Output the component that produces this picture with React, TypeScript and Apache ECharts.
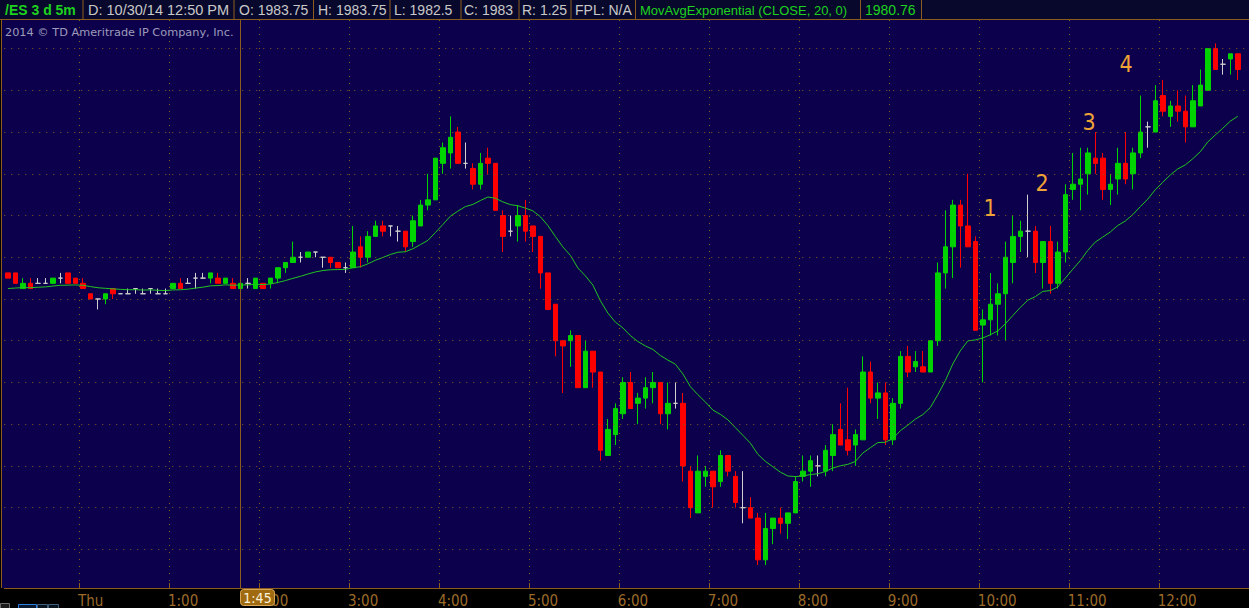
import React, { useEffect, useRef } from "react";
import * as echarts from "echarts";

// ---------- data ----------
const startMinuteOfDay = 23 * 60 + 10; // first bar 23:10 (Wed)
const slotCount = 166; // 165 bars + one empty slot at the right edge

const times: string[] = [];
for (let i = 0; i < slotCount; i++) {
  const m = (startMinuteOfDay + i * 5) % 1440;
  times.push(`${Math.floor(m / 60)}:${String(m % 60).padStart(2, "0")}`);
}

const opens = [
  1973.25, 1973.25, 1972.5, 1972.75, 1972.75, 1972.75, 1972.75, 1973.0, 1973.25, 1973.0,
  1972.75, 1972.25, 1972.0, 1972.0, 1972.5, 1972.25, 1972.25, 1972.5, 1972.25, 1972.5,
  1972.25, 1972.25, 1972.5, 1972.75, 1972.75, 1973.0, 1973.0, 1973.0, 1973.0, 1972.75,
  1972.75, 1972.5, 1972.75, 1972.5, 1972.75, 1972.75, 1973.0, 1973.5, 1973.75, 1974.0,
  1974.0, 1974.25, 1974.0, 1974.0, 1973.75, 1973.5, 1973.5, 1974.5, 1974.0, 1975.0,
  1975.5, 1975.5, 1975.25, 1975.25, 1974.75, 1975.5, 1976.5, 1976.75, 1978.5, 1979.0,
  1980.0, 1978.5, 1978.25, 1977.5, 1978.75, 1978.5, 1976.0, 1975.25, 1975.5, 1976.0,
  1975.5, 1975.0, 1973.25, 1971.75, 1970.0, 1970.0, 1970.25, 1967.75, 1969.5, 1968.5,
  1964.5, 1965.5, 1966.5, 1968.0, 1967.0, 1967.25, 1967.75, 1968.0, 1966.5, 1967.0,
  1967.0, 1963.75, 1961.75, 1963.5, 1963.75, 1963.25, 1964.5, 1963.5, 1962.0, 1962.0,
  1961.5, 1959.5, 1961.0, 1961.5, 1961.25, 1961.75, 1963.5, 1963.75, 1964.0, 1963.75,
  1964.5, 1965.75, 1965.25, 1965.0, 1965.25, 1968.5, 1967.25, 1967.5, 1965.25, 1967.0,
  1969.25, 1968.75, 1968.75, 1968.5, 1970.0, 1973.25, 1974.5, 1976.5, 1975.5, 1974.75,
  1970.75, 1971.0, 1971.75, 1972.25, 1973.75, 1975.0, 1975.25, 1975.25, 1973.75, 1974.75,
  1972.75, 1974.25, 1977.25, 1977.5, 1978.0, 1978.75, 1978.75, 1977.25, 1977.75, 1978.5,
  1978.0, 1979.0, 1980.25, 1980.0, 1981.75, 1980.75, 1981.25, 1981.0, 1980.25, 1981.25,
  1982.0, 1984.0, 1983.25, 1983.5, 1983.75,
];

const closes = [
  1973.0, 1972.75, 1972.75, 1972.5, 1972.75, 1972.75, 1973.0, 1973.0, 1972.75, 1972.75,
  1972.5, 1972.0, 1972.0, 1972.25, 1972.25, 1972.25, 1972.25, 1972.5, 1972.25, 1972.5,
  1972.25, 1972.25, 1972.75, 1972.5, 1972.75, 1973.0, 1973.0, 1973.25, 1972.75, 1973.0,
  1972.5, 1972.75, 1972.75, 1973.0, 1972.5, 1973.0, 1973.5, 1973.75, 1974.0, 1974.0,
  1974.25, 1974.25, 1974.0, 1973.75, 1973.5, 1973.5, 1974.25, 1974.0, 1975.0, 1975.5,
  1975.25, 1975.5, 1975.25, 1974.5, 1975.75, 1976.5, 1976.75, 1978.75, 1979.25, 1979.75,
  1978.5, 1978.5, 1977.5, 1978.5, 1978.5, 1976.25, 1975.0, 1975.25, 1976.0, 1975.25,
  1975.0, 1973.25, 1971.5, 1970.0, 1969.75, 1970.25, 1967.75, 1969.5, 1968.5, 1964.75,
  1965.75, 1966.75, 1968.0, 1966.75, 1967.25, 1967.75, 1968.0, 1966.5, 1967.0, 1967.0,
  1964.0, 1962.0, 1963.75, 1963.75, 1963.0, 1964.5, 1963.75, 1962.25, 1962.0, 1961.5,
  1959.5, 1961.0, 1961.5, 1961.25, 1961.75, 1963.25, 1963.75, 1964.25, 1964.0, 1964.75,
  1965.5, 1965.0, 1964.75, 1965.5, 1968.5, 1967.25, 1967.5, 1965.25, 1967.0, 1969.25,
  1968.5, 1969.0, 1968.5, 1970.0, 1973.25, 1974.5, 1976.5, 1975.5, 1974.5, 1970.5,
  1971.0, 1971.75, 1972.25, 1974.0, 1975.0, 1975.25, 1975.25, 1973.75, 1974.75, 1972.75,
  1974.25, 1977.0, 1977.5, 1977.75, 1979.0, 1978.5, 1977.25, 1977.5, 1978.5, 1977.75,
  1979.0, 1980.0, 1980.25, 1981.5, 1981.0, 1981.25, 1981.0, 1980.25, 1981.5, 1982.25,
  1984.0, 1983.0, 1983.25, 1983.75, 1983.0,
];

const lows = [
  1973.0, 1972.75, 1972.5, 1972.5, 1972.75, 1972.75, 1972.75, 1972.75, 1972.75, 1972.75,
  1972.5, 1972.0, 1971.5, 1971.75, 1972.0, 1972.25, 1972.25, 1972.25, 1972.25, 1972.25,
  1972.25, 1972.25, 1972.5, 1972.5, 1972.75, 1972.5, 1973.0, 1972.75, 1972.75, 1972.75,
  1972.5, 1972.5, 1972.5, 1972.5, 1972.5, 1972.5, 1972.75, 1973.25, 1973.75, 1973.75,
  1974.0, 1974.0, 1973.5, 1973.5, 1973.5, 1973.25, 1973.5, 1973.5, 1973.75, 1975.0,
  1975.0, 1975.0, 1974.75, 1974.25, 1974.5, 1975.5, 1976.25, 1976.75, 1978.0, 1978.25,
  1978.5, 1978.25, 1977.25, 1977.25, 1978.0, 1976.25, 1974.25, 1975.0, 1974.75, 1974.75,
  1974.25, 1972.5, 1971.5, 1969.25, 1967.5, 1968.75, 1967.75, 1967.75, 1967.75, 1964.25,
  1964.5, 1965.0, 1966.25, 1966.75, 1966.0, 1966.75, 1967.0, 1966.0, 1965.75, 1966.75,
  1963.25, 1961.5, 1961.75, 1963.0, 1962.0, 1963.0, 1963.5, 1962.0, 1961.25, 1961.5,
  1959.25, 1959.25, 1960.25, 1960.75, 1960.5, 1961.75, 1963.25, 1963.0, 1963.5, 1963.5,
  1963.75, 1965.0, 1964.5, 1964.0, 1965.25, 1967.0, 1966.25, 1965.0, 1965.0, 1966.75,
  1968.25, 1968.5, 1968.5, 1968.5, 1969.75, 1972.5, 1973.0, 1973.5, 1974.5, 1970.5,
  1968.0, 1970.25, 1970.25, 1970.0, 1972.75, 1974.25, 1974.0, 1973.25, 1972.5, 1972.25,
  1972.5, 1973.75, 1976.75, 1976.25, 1977.0, 1978.0, 1976.75, 1976.5, 1977.0, 1977.5,
  1977.25, 1978.75, 1979.25, 1980.0, 1980.75, 1980.25, 1980.5, 1979.5, 1980.25, 1981.25,
  1982.0, 1983.0, 1982.75, 1982.75, 1982.5,
];

const highs = [
  1973.25, 1973.25, 1973.0, 1973.0, 1973.0, 1973.0, 1973.0, 1973.25, 1973.25, 1973.0,
  1973.0, 1972.25, 1972.0, 1972.25, 1972.5, 1972.25, 1972.5, 1972.5, 1972.5, 1972.5,
  1972.5, 1972.5, 1972.75, 1973.0, 1973.0, 1973.25, 1973.25, 1973.25, 1973.25, 1973.0,
  1973.0, 1972.75, 1973.0, 1973.0, 1972.75, 1973.0, 1973.5, 1973.75, 1974.75, 1974.25,
  1974.25, 1974.25, 1974.0, 1974.0, 1973.75, 1973.75, 1975.5, 1975.0, 1975.25, 1975.75,
  1975.75, 1975.5, 1975.5, 1975.25, 1976.0, 1976.75, 1978.0, 1978.75, 1979.5, 1980.75,
  1980.25, 1979.5, 1978.5, 1979.0, 1979.25, 1978.5, 1976.25, 1976.0, 1976.5, 1976.75,
  1975.5, 1975.0, 1973.25, 1971.75, 1970.0, 1970.5, 1970.25, 1970.0, 1969.5, 1968.5,
  1966.25, 1967.0, 1968.25, 1968.5, 1967.5, 1968.25, 1968.5, 1968.0, 1968.0, 1968.0,
  1967.5, 1964.0, 1964.5, 1964.0, 1963.75, 1964.75, 1964.5, 1963.75, 1963.75, 1962.5,
  1961.75, 1961.75, 1961.5, 1962.0, 1961.75, 1963.5, 1964.5, 1964.5, 1964.5, 1965.0,
  1966.0, 1967.0, 1967.75, 1965.75, 1969.25, 1969.0, 1968.0, 1968.0, 1967.25, 1969.5,
  1969.75, 1969.5, 1969.5, 1970.0, 1973.75, 1976.25, 1976.75, 1976.75, 1978.0, 1975.0,
  1971.5, 1973.25, 1972.75, 1974.75, 1976.0, 1975.75, 1977.0, 1975.5, 1974.75, 1975.5,
  1974.75, 1977.5, 1979.0, 1979.25, 1979.25, 1980.0, 1979.0, 1978.0, 1979.25, 1980.0,
  1979.25, 1981.75, 1980.5, 1982.25, 1982.5, 1981.5, 1982.0, 1981.75, 1982.25, 1983.0,
  1984.0, 1984.25, 1983.5, 1983.75, 1983.75,
];

// EMA(20) of CLOSE, seeded with the level read at the left edge of the picture
const emaPeriod = 20;
const emaSeed = 1972.45;

const priceLevels = [1960, 1962, 1964, 1966, 1968, 1970, 1972, 1974, 1976, 1978, 1980, 1982, 1984];
const yMin = 1958.15;
const yMax = 1985.37;
const cursorTime = "1:45";

const headerCells = [
  { text: "/ES 3 d 5m", x: 5, green: true, bold: true, size: 14 },
  { text: "D: 10/30/14 12:50 PM", x: 88, size: 14.5 },
  { text: "O: 1983.75", x: 239, size: 14 },
  { text: "H: 1983.75", x: 318, size: 14 },
  { text: "L: 1982.5", x: 394, size: 14 },
  { text: "C: 1983", x: 464, size: 14 },
  { text: "R: 1.25", x: 522, size: 14 },
  { text: "FPL: N/A", x: 575, size: 14 },
  { text: "MovAvgExponential (CLOSE, 20, 0)", x: 640, green: true, size: 13 },
  { text: "1980.76", x: 865, green: true, size: 14 },
];
const headerSeparators = [83, 234, 313.5, 390, 461, 519, 571, 635.5, 860.5, 921.5];
const copyright = "2014 © TD Ameritrade IP Company, Inc.";
const waveLabels = [
  { text: "1", x: 990, y: 208 },
  { text: "2", x: 1042, y: 183 },
  { text: "3", x: 1089, y: 122 },
  { text: "4", x: 1126, y: 64 },
];

// ---------- styles ----------
const NAVY = "#0c004c";
const BROWN = "#8c5c1c";
const GREEN = "#00d400";
const RED = "#ff0000";
const DOJI = "#d0d0d0";
const EMA_GREEN = "#22c422";
const HDR_GREEN = "#1ed21e";
const HDR_GRAY = "#c8c8c8";
const CONDENSED = '"DejaVu Sans Condensed", "Liberation Sans Narrow", "Liberation Sans", sans-serif';

function buildOption() {
  const ohlc = opens.map((o, i) => [o, closes[i], lows[i], highs[i]]);
  const ema: number[] = [];
  let prev = emaSeed;
  const k = 2 / (emaPeriod + 1);
  closes.forEach((c) => {
    prev = prev + k * (c - prev);
    ema.push(Number(prev.toFixed(3)));
  });

  const isHour = (_i: number, v: string) => typeof v === "string" && v.endsWith(":00");

  const graphic: any[] = [];
  // header
  graphic.push({ type: "rect", z: 100, shape: { x: 0, y: 0, width: 1249, height: 19 }, style: { fill: "#08082c" } });
  graphic.push({ type: "line", z: 101, shape: { x1: 0, y1: 19.5, x2: 1249, y2: 19.5 }, style: { stroke: BROWN, lineWidth: 1 } });
  headerSeparators.forEach((x) =>
    graphic.push({ type: "line", z: 101, shape: { x1: x, y1: 0, x2: x, y2: 19 }, style: { stroke: BROWN, lineWidth: 1 } })
  );
  headerCells.forEach((c: any) =>
    graphic.push({
      type: "text",
      z: 102,
      x: c.x,
      y: 10,
      style: {
        text: c.text,
        fill: c.green ? HDR_GREEN : HDR_GRAY,
        fontSize: c.size,
        fontWeight: c.bold ? "bold" : "normal",
        fontFamily: '"Liberation Sans", Arial, sans-serif',
        align: "left",
        verticalAlign: "middle",
        textAlign: "left",
        textVerticalAlign: "middle",
      },
    })
  );
  // left border strip and line
  graphic.push({ type: "rect", z: 1, shape: { x: 2, y: 20, width: 3, height: 568 }, style: { fill: NAVY } });
  graphic.push({ type: "line", z: 101, shape: { x1: 1.5, y1: 19.5, x2: 1.5, y2: 588 }, style: { stroke: BROWN, lineWidth: 1 } });
  // copyright
  graphic.push({
    type: "text",
    z: 102,
    x: 5,
    y: 32.5,
    style: {
      text: copyright,
      fill: "#9c9cba",
      fontSize: 11.3,
      fontFamily: '"DejaVu Sans", sans-serif',
      align: "left",
      verticalAlign: "middle",
      textAlign: "left",
      textVerticalAlign: "middle",
    },
  });
  // wave labels
  waveLabels.forEach((w) =>
    graphic.push({
      type: "text",
      z: 102,
      x: w.x,
      y: w.y,
      style: {
        text: w.text,
        fill: "#eea336",
        fontSize: 23,
        fontFamily: CONDENSED,
        align: "center",
        verticalAlign: "middle",
        textAlign: "center",
        textVerticalAlign: "middle",
      },
    })
  );
  // cursor time badge
  graphic.push({
    type: "rect",
    z: 110,
    shape: { x: 240.5, y: 589.5, width: 34, height: 16, r: 3 },
    style: { fill: "#a06a10", stroke: "#d6a656", lineWidth: 1 },
  });
  graphic.push({
    type: "text",
    z: 111,
    x: 257.5,
    y: 598,
    style: {
      text: cursorTime,
      fill: "#fbf2dc",
      fontSize: 14,
      fontFamily: CONDENSED,
      align: "center",
      verticalAlign: "middle",
      textAlign: "center",
      textVerticalAlign: "middle",
    },
  });
  // bottom-left little ui boxes
  graphic.push({ type: "rect", z: 100, shape: { x: 0.5, y: 603.5, width: 9, height: 6 }, style: { fill: "#1c1c1c", stroke: "#6a6a6a", lineWidth: 1 } });
  graphic.push({ type: "rect", z: 100, shape: { x: 18.5, y: 604.5, width: 18, height: 5 }, style: { fill: "#0a1a30", stroke: "#2f80e0", lineWidth: 1 } });
  graphic.push({ type: "rect", z: 100, shape: { x: 37.5, y: 604.5, width: 10, height: 5 }, style: { fill: "#0a1420", stroke: "#41607e", lineWidth: 1 } });
  graphic.push({ type: "rect", z: 100, shape: { x: 48.5, y: 604.5, width: 10, height: 5 }, style: { fill: "#0a1420", stroke: "#41607e", lineWidth: 1 } });

  return {
    animation: false,
    backgroundColor: "#000000",
    grid: {
      left: 4.24,
      top: 20,
      width: 1247.3,
      bottom: 20,
      show: true,
      backgroundColor: NAVY,
      borderWidth: 0,
    },
    xAxis: {
      type: "category",
      data: times,
      boundaryGap: true,
      axisLine: { show: true, lineStyle: { color: BROWN, width: 1 } },
      axisTick: { show: true, inside: true, length: 5, interval: isHour, lineStyle: { color: BROWN } },
      splitLine: { show: true, interval: isHour, lineStyle: { color: BROWN, type: [1, 6], width: 1 } },
      axisLabel: {
        show: true,
        interval: isHour,
        formatter: (v: string) => (v === "0:00" ? "Thu" : v),
        color: "#9b6a2a",
        fontSize: 15,
        fontFamily: CONDENSED,
        align: "left",
        margin: 5,
        padding: [0, 0, 0, -5],
      },
    },
    yAxis: {
      type: "value",
      min: yMin,
      max: yMax,
      show: false,
      splitLine: { show: false },
    },
    graphic,
    series: [
      {
        type: "line",
        data: times.map(() => "-"),
        z: 1,
        silent: true,
        symbol: "none",
        markLine: {
          silent: true,
          symbol: ["none", "none"],
          label: { show: false },
          animation: false,
          data: [
            ...priceLevels.map((v) => ({ yAxis: v, lineStyle: { color: BROWN, type: [1, 6], width: 1 } })),
            { xAxis: cursorTime, lineStyle: { color: BROWN, type: "solid", width: 1 } },
          ],
        },
      },
      {
        type: "candlestick",
        data: ohlc,
        barWidth: 5,
        z: 3,
        itemStyle: {
          color: GREEN,
          color0: RED,
          borderColor: GREEN,
          borderColor0: RED,
          borderColorDoji: DOJI,
          borderWidth: 1,
        },
      },
      {
        type: "line",
        data: ema,
        z: 4,
        symbol: "none",
        showSymbol: false,
        lineStyle: { color: EMA_GREEN, width: 1 },
        silent: true,
      },
    ],
  };
}

export default function App() {
  const ref = useRef<HTMLDivElement>(null);
  useEffect(() => {
    if (!ref.current) return;
    const chart = echarts.init(ref.current, undefined, { renderer: "svg" });
    chart.setOption(buildOption() as any);
    return () => chart.dispose();
  }, []);
  return (
    <div
      ref={ref}
      style={{ position: "absolute", left: 0, top: 0, width: 1249, height: 608, background: "#000" }}
    />
  );
}
